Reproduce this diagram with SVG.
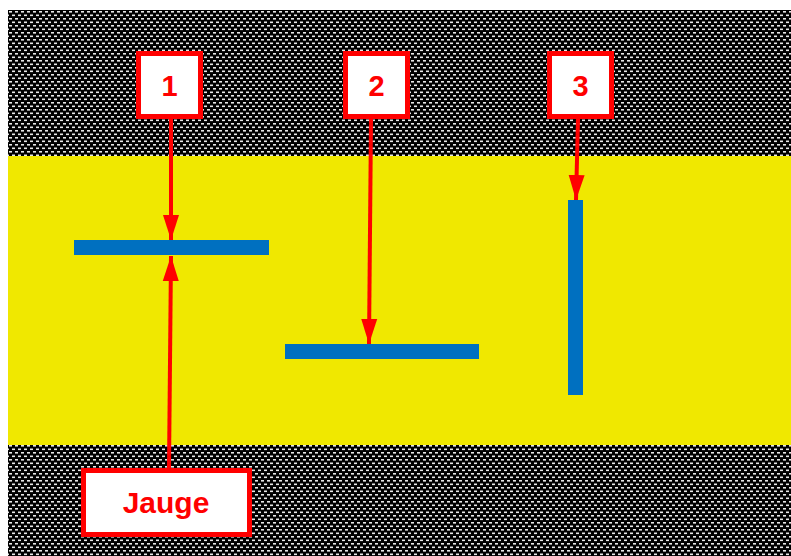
<svg xmlns="http://www.w3.org/2000/svg" width="791" height="556" viewBox="0 0 791 556">
<style>
.box{fill:#fff;stroke:#ff0000;stroke-width:5}
.lbl{font-family:"Liberation Sans",Arial,sans-serif;font-weight:bold;fill:#ff0000;text-anchor:middle}
.bar{fill:#0070c0}
.arr{stroke:#ff0000;stroke-width:4;fill:none;marker-end:url(#ah)}
</style>
<defs>
<pattern id="dots" patternUnits="userSpaceOnUse" x="8" y="10" width="6" height="7">
<rect width="6" height="7" fill="#000"/>
<rect x="1" y="1" width="3" height="1.6" fill="#e8e8e8"/>
<rect x="4" y="4.5" width="3" height="1.6" fill="#e8e8e8"/>
<rect x="-2" y="4.5" width="3" height="1.6" fill="#e8e8e8"/>
</pattern>
<marker id="ah" markerUnits="userSpaceOnUse" markerWidth="26" markerHeight="18" refX="25" refY="8" orient="auto" viewBox="0 0 26 16">
<path d="M0,0 L25,8 L0,16 Z" fill="#ff0000"/>
</marker>
</defs>
<rect x="0" y="0" width="791" height="556" fill="#fff"/>
<rect x="8" y="10" width="783" height="546" fill="url(#dots)"/>
<rect x="8" y="156" width="783" height="289" fill="#f0e800"/>
<g id="bar1"><rect class="bar" x="74" y="240" width="195" height="15"/></g>
<g id="bar2"><rect class="bar" x="285" y="344" width="194" height="15"/></g>
<g id="bar3"><rect class="bar" x="568" y="200" width="15" height="195"/></g>
<g id="connectors">
<line class="arr" x1="171" y1="119" x2="171" y2="240"/>
<line class="arr" x1="169" y1="468" x2="171" y2="256"/>
<line class="arr" x1="371" y1="119" x2="369" y2="344"/>
<line class="arr" x1="578" y1="119" x2="576" y2="200"/>
</g>
<g id="node1"><rect class="box" x="138.5" y="53.5" width="62" height="63"/><text class="lbl" x="169.5" y="96" font-size="29">1</text></g>
<g id="node2"><rect class="box" x="345.5" y="53.5" width="62" height="63"/><text class="lbl" x="376.5" y="96" font-size="29">2</text></g>
<g id="node3"><rect class="box" x="549.5" y="53.5" width="62" height="63"/><text class="lbl" x="580.5" y="96" font-size="29">3</text></g>
<g id="jauge"><rect class="box" x="83.5" y="470.5" width="166" height="64"/><text class="lbl" x="166" y="513" font-size="30">Jauge</text></g>
</svg>
